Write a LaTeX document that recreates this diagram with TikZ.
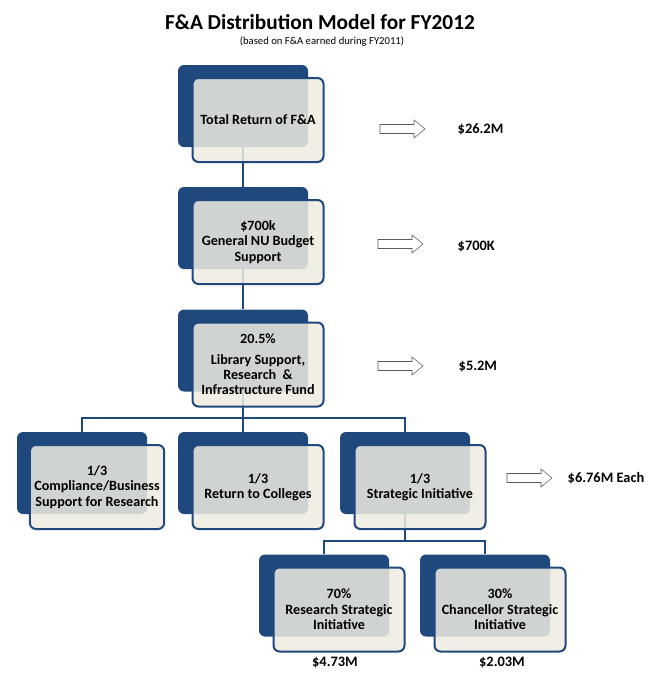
\documentclass[tikz,border=0pt]{standalone}
\usepackage{fontspec}
\setmainfont{Carlito}
\usetikzlibrary{backgrounds}
\definecolor{fadark}{HTML}{1F497D}
\definecolor{facream}{HTML}{EEECE1}
\begin{document}
\begin{tikzpicture}[x=0.75pt, y=-0.75pt,
  backbox/.style={fill=fadark, rounded corners=4.5pt, minimum width=97.5pt, minimum height=61.5pt},
  frontbox/.style={draw=fadark, line width=1.5pt, fill=facream, fill opacity=0.85, text opacity=1,
    rounded corners=4.5pt, minimum width=98.25pt, minimum height=63pt, align=center,
    font=\bfseries\fontsize{10.6}{11.5}\selectfont},
  amount/.style={font=\bfseries\fontsize{10.8}{12}\selectfont, anchor=west},
  link/.style={fadark, line width=1.5pt}]
  \useasboundingbox (0,0) rectangle (650,675);
  \node[font=\bfseries\fontsize{16}{18}\selectfont] (title) at (320,22) {F\&A Distribution Model for FY2012};
  \node[font=\fontsize{8}{10}\selectfont] (subtitle) at (322,42) {(based on F\&A earned during FY2011)};
  \foreach \name/\x/\y/\txt in {
    b1/243/106/{Total Return of F\&A},
    b2/243/228/{\$700k\\General NU Budget\\Support},
    b3/243/350.5/{20.5\%\\[4pt]Library Support,\\Research~~\&\\Infrastructure Fund},
    c1/82/473/{1/3\\Compliance/Business\\Support for Research},
    c2/243/473/{1/3\\Return to Colleges},
    c3/405/473/{1/3\\Strategic Initiative},
    d1/324/595.5/{70\%\\Research Strategic\\Initiative},
    d2/485/595.5/{30\%\\Chancellor Strategic\\Initiative}} {
    \node[backbox] (\name back) at (\x,\y) {};
    \node[frontbox] (\name) at (\x+15,\y+14) {\txt};
  }
  \begin{scope}[on background layer]
    \draw[link] (b1back) -- (b2back);
    \draw[link] (b2back) -- (b3back);
    \coordinate (split1) at (243,418);
    \draw[link] (b3back) -- (split1);
    \draw[link] (c1back) |- (split1) -| (c3back);
    \draw[link] (split1) -- (c2back);
    \coordinate (split2) at (405,541);
    \draw[link] (c3back) -- (split2);
    \draw[link] (d1back) |- (split2) -| (d2back);
  \end{scope}
  \foreach \ax/\ay in {380/129, 378/244, 378/366, 507/478}
    \draw[gray!70!black, fill=white] (\ax,\ay-4.5) -- ++(34,0) -- ++(0,-4.5) -- ++(11,9)
      -- ++(-11,9) -- ++(0,-4.5) -- ++(-34,0) -- cycle;
  \node[amount] (v1) at (453,129) {\$26.2M};
  \node[amount] (v2) at (453,247) {\$700K};
  \node[amount] (v3) at (454,367) {\$5.2M};
  \node[amount] (v4) at (563,478) {\$6.76M Each};
  \node[amount, anchor=center] (v5) at (335,663) {\$4.73M};
  \node[amount, anchor=center] (v6) at (502,663) {\$2.03M};
\end{tikzpicture}
\end{document}
